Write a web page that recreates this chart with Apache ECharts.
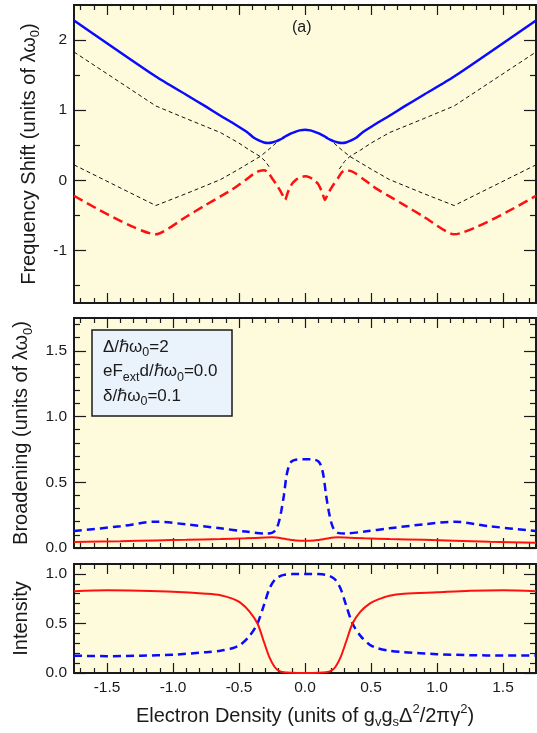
<!DOCTYPE html>
<html>
<head>
<meta charset="utf-8">
<script src="https://cdn.jsdelivr.net/npm/echarts@6/dist/echarts.min.js"></script>
<style>
html, body { margin: 0; padding: 0; background: #fff; }
#chart { width: 537px; height: 733px; }
</style>
</head>
<body>
<div id="chart"></div>
<script>
// panel (a) top: frequency shift
var shiftX = [-1.75, -1.13, -0.9, -0.75, -0.64, -0.55, -0.49, -0.44, -0.39, -0.35, -0.31, -0.28, -0.25, -0.22, -0.19, -0.17, -0.15, -0.13, -0.1, -0.07, -0.04,
  0, 0.04, 0.07, 0.1, 0.13, 0.15, 0.17, 0.19, 0.22, 0.25, 0.28, 0.31, 0.35, 0.39, 0.44, 0.49, 0.55, 0.64, 0.75, 0.9, 1.13, 1.75];
var shiftUpper = [2.28, 1.48, 1.22, 1.05, 0.92, 0.82, 0.75, 0.69, 0.61, 0.57, 0.54, 0.533, 0.54, 0.555, 0.58, 0.6, 0.625, 0.645, 0.672, 0.695, 0.712,
  0.722, 0.712, 0.695, 0.672, 0.645, 0.625, 0.6, 0.58, 0.555, 0.54, 0.533, 0.54, 0.57, 0.61, 0.69, 0.75, 0.82, 0.92, 1.05, 1.22, 1.48, 2.28];
var shiftLower = [-0.22, -0.77, -0.52, -0.35, -0.23, -0.13, -0.05, 0.02, 0.09, 0.13, 0.145, 0.115, 0.03, -0.05, -0.14, -0.21, -0.28, -0.17, -0.055, 0.005, 0.038,
  0.057, 0.038, 0.005, -0.055, -0.17, -0.28, -0.21, -0.14, -0.05, 0.03, 0.115, 0.145, 0.13, 0.09, 0.02, -0.05, -0.13, -0.23, -0.35, -0.52, -0.77, -0.22];

// bare (uncoupled) modes, black dotted
var bareAX = [-1.75, -1.13, -0.9, -0.64, -0.5, -0.42, -0.34, -0.3, -0.26];
var bareAY = [1.83, 1.06, 0.88, 0.68, 0.53, 0.43, 0.34, 0.27, 0.16];
var bareBX = [-1.75, -1.13, -0.9, -0.64, -0.5, -0.42, -0.34, -0.28, -0.22];
var bareBY = [0.22, -0.36, -0.19, 0.01, 0.16, 0.25, 0.34, 0.43, 0.53];
var bareCX = [0.22, 0.28, 0.34, 0.42, 0.5, 0.64, 0.9, 1.13, 1.75];
var bareCY = [0.53, 0.43, 0.34, 0.25, 0.16, 0.01, -0.19, -0.36, 0.22];
var bareDX = [0.26, 0.3, 0.34, 0.42, 0.5, 0.64, 0.9, 1.13, 1.75];
var bareDY = [0.16, 0.27, 0.34, 0.43, 0.53, 0.68, 0.88, 1.06, 1.83];

// middle: broadening
var broadX = [-1.75, -1.4, -1.13, -0.9, -0.64, -0.45, -0.3, -0.25, -0.22, -0.2, -0.18, -0.16, -0.14, -0.12, -0.1, -0.07,
  0, 0.07, 0.1, 0.12, 0.14, 0.16, 0.18, 0.2, 0.22, 0.25, 0.3, 0.45, 0.64, 0.9, 1.13, 1.4, 1.75];
var broadBlue = [0.13, 0.165, 0.2, 0.18, 0.15, 0.125, 0.11, 0.115, 0.14, 0.19, 0.28, 0.4, 0.55, 0.63, 0.66, 0.672,
  0.675, 0.672, 0.66, 0.63, 0.55, 0.4, 0.28, 0.19, 0.14, 0.115, 0.11, 0.125, 0.15, 0.18, 0.2, 0.165, 0.13];
var broadRed = [0.045, 0.052, 0.058, 0.062, 0.068, 0.074, 0.08, 0.081, 0.08, 0.078, 0.075, 0.071, 0.067, 0.064, 0.061, 0.058,
  0.056, 0.058, 0.061, 0.064, 0.067, 0.071, 0.075, 0.078, 0.08, 0.081, 0.08, 0.074, 0.068, 0.062, 0.056, 0.048, 0.04];

// bottom: intensity
var intX = [-1.75, -1.5, -1.25, -1.0, -0.75, -0.64, -0.55, -0.49, -0.42, -0.36, -0.31, -0.27, -0.23, -0.2, -0.16, -0.1,
  0, 0.1, 0.16, 0.2, 0.23, 0.27, 0.31, 0.36, 0.42, 0.49, 0.55, 0.64, 0.75, 1.0, 1.25, 1.5, 1.75];
var intRed = [0.825, 0.835, 0.83, 0.82, 0.8, 0.785, 0.75, 0.71, 0.62, 0.5, 0.31, 0.16, 0.06, 0.025, 0.008, 0.002,
  0, 0.002, 0.008, 0.025, 0.06, 0.16, 0.31, 0.5, 0.62, 0.7, 0.74, 0.78, 0.8, 0.815, 0.83, 0.835, 0.825];
var intBlue = [0.175, 0.17, 0.175, 0.185, 0.21, 0.225, 0.25, 0.285, 0.375, 0.5, 0.69, 0.85, 0.94, 0.97, 0.99, 0.998,
  1.0, 0.998, 0.99, 0.97, 0.94, 0.85, 0.69, 0.5, 0.375, 0.285, 0.25, 0.225, 0.21, 0.19, 0.18, 0.177, 0.177];

// ticks
var xMajor = [-1.5, -1.0, -0.5, 0, 0.5, 1.0, 1.5];
var shiftMajor = [-1, 0, 1, 2];
var shiftMinor = [-1.5, -0.5, 0.5, 1.5];
var broadMajor = [0, 0.5, 1.0, 1.5];
var intMajor = [0, 0.5, 1.0];

var FONT = '"Liberation Sans", Arial, sans-serif';
var INK = '#1a1a1a';

function minorTicks(from, to, step, major) {
  var out = [];
  for (var v = from; v <= to + 1e-9; v += step) {
    var r = Math.round(v * 100) / 100;
    if (major.indexOf(r) < 0) out.push(r);
  }
  return out;
}
var xMinor = minorTicks(-1.7, 1.7, 0.1, xMajor);
var broadMinor = minorTicks(0.1, 1.7, 0.1, broadMajor);
var intMinor = minorTicks(0.1, 1.0, 0.1, intMajor);

function zip(xs, ys) {
  return xs.map(function (x, i) { return [x, ys[i]]; });
}

var rich = {
  sub: { fontSize: 13, fontFamily: FONT, color: INK, verticalAlign: 'bottom', lineHeight: 26 },
  sup: { fontSize: 13, fontFamily: FONT, color: INK, verticalAlign: 'top', lineHeight: 26 }
};

var grids = [
  { left: 74, top: 5, width: 462, height: 298 },
  { left: 74, top: 318, width: 462, height: 230 },
  { left: 74, top: 564, width: 462, height: 109 }
];
grids.forEach(function (g) {
  g.show = true;
  g.backgroundColor = '#fdfbdc';
  g.borderColor = INK;
  g.borderWidth = 2;
});

var xAxes = [], yAxes = [];

function tickAxis(gi, pos, min, max, vals, len, label) {
  var ax = {
    type: 'value', gridIndex: gi, position: pos, min: min, max: max,
    axisLine: { show: false, onZero: false }, splitLine: { show: false },
    axisTick: { show: true, inside: true, length: len, customValues: vals, lineStyle: { color: INK, width: 1.2 } },
    axisLabel: { show: false }
  };
  if (label) {
    ax.axisLabel = { show: true, customValues: vals, formatter: label, fontSize: 15.5, fontFamily: FONT, color: INK, margin: 7 };
  }
  return ax;
}

var fmt1 = function (v) { return v.toFixed(1); };
var fmt0 = function (v) { return String(v); };

var yRanges = [[-1.75, 2.5], [0, 1.75], [0, 1.1]];
var yMaj = [shiftMajor, broadMajor, intMajor];
var yMin = [shiftMinor, broadMinor, intMinor];
var yFmt = [fmt0, fmt1, fmt1];
var yNames = ['Frequency Shift (units of λω{sub|0})', 'Broadening (units of λω{sub|0})', 'Intensity'];
var yGaps = [29, 37, 38];
var mainX = [], mainY = [];

for (var g = 0; g < 3; g++) {
  var r = yRanges[g];
  mainX.push(xAxes.length);
  var bx = tickAxis(g, 'bottom', -1.75, 1.75, xMajor, 10, g === 2 ? fmt1 : null);
  if (g === 2) {
    bx.name = 'Electron Density (units of g{sub|v}g{sub|s}Δ{sup|2}/2πγ{sup|2})';
    bx.nameLocation = 'middle';
    bx.nameGap = 30;
    bx.nameTextStyle = { fontSize: 20, fontFamily: FONT, color: INK, lineHeight: 26, rich: rich };
  }
  xAxes.push(bx);
  xAxes.push(tickAxis(g, 'bottom', -1.75, 1.75, xMinor, 5));
  xAxes.push(tickAxis(g, 'top', -1.75, 1.75, xMajor, 10));
  xAxes.push(tickAxis(g, 'top', -1.75, 1.75, xMinor, 5));

  mainY.push(yAxes.length);
  var ly = tickAxis(g, 'left', r[0], r[1], yMaj[g], 12, yFmt[g]);
  ly.name = yNames[g];
  ly.nameLocation = 'middle';
  ly.nameRotate = 90;
  ly.nameGap = yGaps[g];
  ly.nameTextStyle = { fontSize: 20, fontFamily: FONT, color: INK, lineHeight: 26, rich: rich };
  yAxes.push(ly);
  yAxes.push(tickAxis(g, 'left', r[0], r[1], yMin[g], 6));
  yAxes.push(tickAxis(g, 'right', r[0], r[1], yMaj[g], 12));
  yAxes.push(tickAxis(g, 'right', r[0], r[1], yMin[g], 6));
}

function line(g, data, color, width, type, smooth) {
  return {
    type: 'line', xAxisIndex: mainX[g], yAxisIndex: mainY[g], data: data,
    showSymbol: false, symbol: 'none', smooth: smooth || false, silent: true,
    lineStyle: { color: color, width: width, type: type }
  };
}

var BLUE = '#0a0aff', RED = '#ff1010';
var series = [
  line(0, zip(bareAX, bareAY), '#111', 1, [4, 3]),
  line(0, zip(bareBX, bareBY), '#111', 1, [4, 3]),
  line(0, zip(bareCX, bareCY), '#111', 1, [4, 3]),
  line(0, zip(bareDX, bareDY), '#111', 1, [4, 3]),
  line(0, zip(shiftX, shiftLower), RED, 2.5, [10, 5], 0.2),
  line(0, zip(shiftX, shiftUpper), BLUE, 2.5, 'solid', 0.2),
  line(1, zip(broadX, broadRed), RED, 2, 'solid', 0.3),
  line(1, zip(broadX, broadBlue), BLUE, 2.5, [8, 5], 0.3),
  line(2, zip(intX, intBlue), BLUE, 2.5, [8, 5], 0.3),
  line(2, zip(intX, intRed), RED, 2, 'solid', 0.3)
];

var chart = echarts.init(document.getElementById('chart'), null, { renderer: 'canvas' });
chart.setOption({
  animation: false,
  backgroundColor: '#fff',
  grid: grids,
  xAxis: xAxes,
  yAxis: yAxes,
  series: series,
  graphic: [
    {
      type: 'text', left: 292, top: 20, z: 10,
      style: { text: '(a)', fontSize: 16, fontFamily: FONT, fill: INK }
    },
    {
      type: 'rect', z: 10,
      shape: { x: 92, y: 330, width: 140, height: 86 },
      style: { fill: '#eaf2fb', stroke: INK, lineWidth: 1.5 }
    },
    {
      type: 'text', z: 11, x: 103, y: 335,
      style: {
        text: 'Δ/ℏω{s|0}=2\neF{s|ext}d/ℏω{s|0}=0.0\nδ/ℏω{s|0}=0.1',
        fontSize: 17, fontFamily: FONT, fill: INK, lineHeight: 24.5, verticalAlign: 'top',
        rich: { s: { fontSize: 12.5, fontFamily: FONT, fill: INK, verticalAlign: 'bottom', lineHeight: 24.5 } }
      }
    }
  ]
});
</script>
</body>
</html>
